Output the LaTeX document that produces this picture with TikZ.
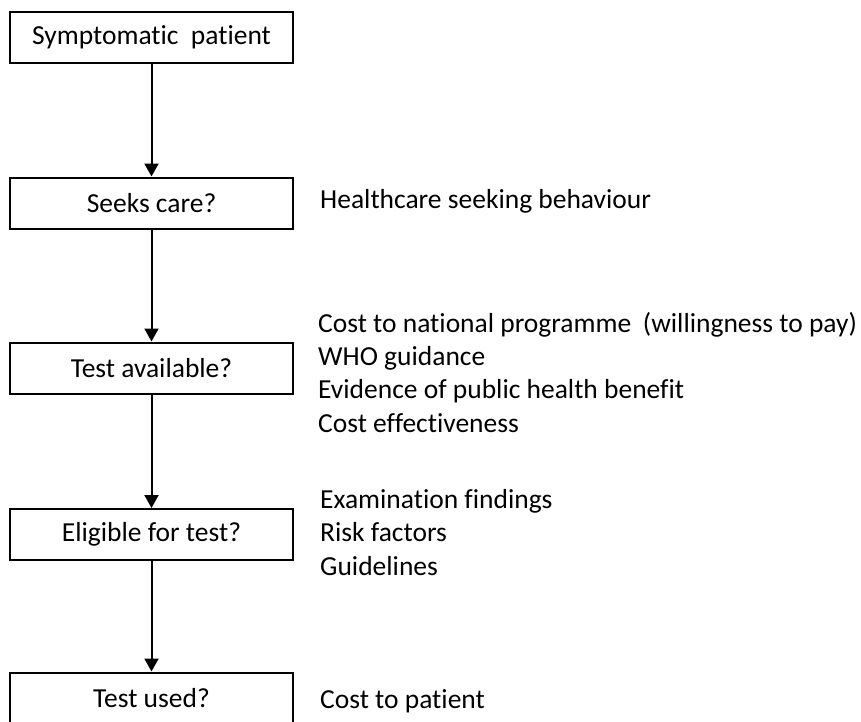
\documentclass[tikz,border=0pt]{standalone}
\usepackage{fontspec}
\setmainfont[Ligatures={NoCommon}]{Carlito}
\usetikzlibrary{arrows.meta}
\begin{document}
\begin{tikzpicture}[x=1pt,y=1pt,
  flowbox/.style={draw=black,line width=2pt,rectangle,minimum width=283pt,minimum height=51pt,inner sep=0pt,font=\fontsize{27.5}{33}\selectfont},
  factor/.style={anchor=base west,inner sep=0pt,font=\fontsize{27.5}{33}\selectfont},
  flowarrow/.style={line width=2pt,-{Triangle[width=14pt,length=13pt]}}]
\useasboundingbox (0,0) rectangle (861,-721);
\node[flowbox] (b1) at (151.5,-37.5) {Symptomatic\hspace{0.45em}patient\hspace{0.6em}};
\node[flowbox] (b2) at (151.5,-203) {Seeks care?};
\node[flowbox] (b3) at (151.5,-368) {Test available?};
\node[flowbox] (b4) at (151.5,-534.5) {Eligible for test?};
\node[flowbox] (b5) at (151.5,-698) {Test used?};
\draw[flowarrow] (b1.south) -- (b2.north);
\draw[flowarrow] (b2.south) -- (b3.north);
\draw[flowarrow] (b3.south) -- (b4.north);
\draw[flowarrow] (b4.south) -- (b5.north);
\node[factor] (f1) at (320,-208) {Healthcare seeking behaviour};
\node[factor] (f2) at (318,-332) {Cost to national programme\hspace{0.2em} (willingness to pay)};
\node[factor] (f3) at (318,-365) {WHO guidance};
\node[factor] (f4) at (318,-398.5) {Evidence of public health benefit};
\node[factor] (f5) at (318,-432) {Cost effectiveness};
\node[factor] (f6) at (320,-508) {Examination findings};
\node[factor] (f7) at (320,-541.5) {Risk factors};
\node[factor] (f8) at (320,-575) {Guidelines};
\node[factor] (f9) at (320,-708) {Cost to patient};
\end{tikzpicture}
\end{document}
